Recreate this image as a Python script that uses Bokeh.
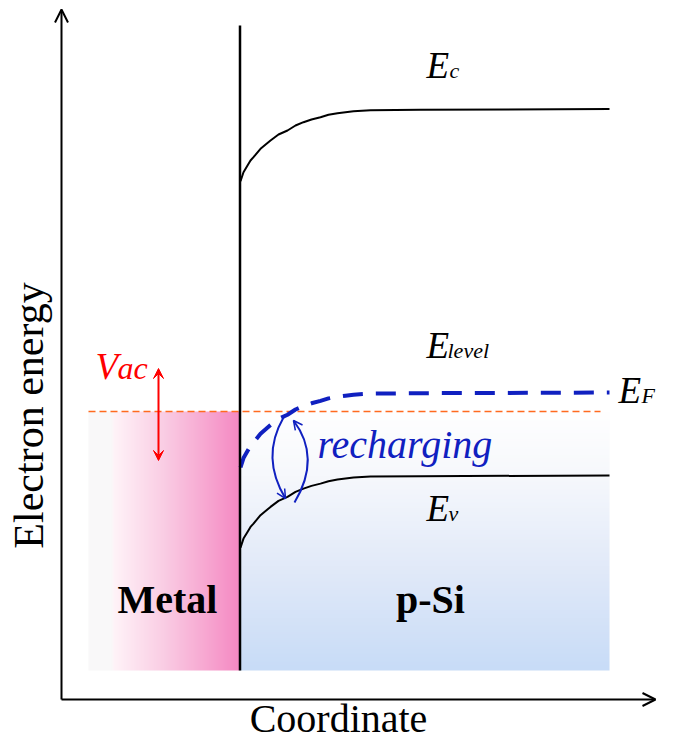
import numpy as np
from bokeh.plotting import figure
from bokeh.models import Range1d, Arrow, OpenHead, VeeHead
from bokeh.core.properties import value
from bokeh.embed import file_html
from bokeh.resources import INLINE

# ---------------- data (schematic units: coordinate, electron energy) -------------
coord = [240, 243, 247, 250, 253, 260, 270, 278, 287, 295, 303, 311, 320, 328, 337,
         345, 353, 370, 420, 609]
E_c = [561.3, 570.3, 577, 582, 585.3, 593.7, 602, 608, 612, 617, 620.3, 623, 625.3,
       627.7, 629.3, 630.3, 631.3, 632.3, 632.7, 633.5]
E_v = [194.9, 203.9, 210.6, 215.6, 218.9, 227.3, 235.6, 241.6, 245.6, 250.6, 253.9,
       256.6, 258.9, 261.3, 262.9, 263.9, 264.9, 265.9, 266.3, 267.0]
E_F = [275, 284.4, 291.4, 296.6, 300, 308.7, 317.4, 323.6, 327.8, 333, 336.4, 339.2,
       341.6, 344.1, 345.8, 346.8, 347.8, 348.9, 349.3, 350]

x_interface = 239.5
interface_E = [72, 717]
metal_x = [88, 239]
psi_x = [239, 609]
region_E = [72, 331]          # bottom / top of the filled regions
E_F_metal = 331               # Fermi level of the metal (orange dashed)
E_F_metal_x = [88, 600]
vac_x = 158
vac_E = [282, 374]
axis_x0, axis_E0 = 61, 43
axis_x1, axis_E1 = 655, 733

# recharging arcs: (x0, E0, ctrl_x, ctrl_E, x1, E1)
arc_down = (283, 325, 260, 285, 285, 244)
arc_up = (294, 240, 321, 285, 293, 322)

# labels (x, baseline)
E_labels_x = [426, 426, 618, 426]
E_labels_base = [665, 385, 340, 222]
E_subs = ["c", "level", "F", "v"]
sub_dx = [23, 21, 23, 22]

BLUE = "#1020C0"
FONT = value("Liberation Serif")
E_FS, SUB_FS = 37, 22


def mid(base, fs):
    # text is anchored at its middle; shift from the alphabetic baseline
    return base + 0.3375 * fs


p = figure(width=673, height=742, x_range=Range1d(0, 673), y_range=Range1d(0, 742),
           output_backend="svg", toolbar_location=None, min_border=0,
           x_axis_location=None, y_axis_location=None)
p.grid.visible = False
p.outline_line_color = None
p.background_fill_color = "white"
p.border_fill_color = "white"


def gradient(stops, n):
    t = np.linspace(0, 1, n)
    pos = [s[0] for s in stops]
    return [np.interp(t, pos, [s[1][k] for s in stops]) for k in range(3)]


# metal: horizontal gradient
nm = 151
r, g, b = gradient([(0, (249, 249, 249)), (0.15, (250, 248, 249)), (0.17, (255, 243, 248)),
                    (0.5, (250, 205, 228)), (1.0, (245, 138, 195))], nm)
img_m = np.empty((4, nm), dtype=np.uint32)
vm = img_m.view(dtype=np.uint8).reshape((4, nm, 4))
vm[..., 0] = r.astype(np.uint8)
vm[..., 1] = g.astype(np.uint8)
vm[..., 2] = b.astype(np.uint8)
vm[..., 3] = 255
p.image_rgba(image=[img_m], x=metal_x[0], y=region_E[0], dw=metal_x[1] - metal_x[0],
             dh=region_E[1] - region_E[0])

# p-Si: vertical gradient (row 0 = bottom)
ns = 200
r, g, b = gradient([(0, (200, 220, 247)), (0.4, (226, 234, 249)), (0.75, (246, 248, 252)),
                    (1.0, (255, 255, 255))], ns)
img_s = np.empty((ns, 4), dtype=np.uint32)
vs = img_s.view(dtype=np.uint8).reshape((ns, 4, 4))
vs[..., 0] = r.astype(np.uint8)[:, None]
vs[..., 1] = g.astype(np.uint8)[:, None]
vs[..., 2] = b.astype(np.uint8)[:, None]
vs[..., 3] = 255
p.image_rgba(image=[img_s], x=psi_x[0], y=region_E[0], dw=psi_x[1] - psi_x[0],
             dh=region_E[1] - region_E[0])

# metal Fermi level
p.line(E_F_metal_x, [E_F_metal, E_F_metal], line_color="#FF6A1F", line_width=1.5,
       line_dash="7 4")

# bands
p.line(coord, E_c, line_color="black", line_width=2)
p.line(coord, E_v, line_color="black", line_width=2)
p.line(coord, E_F, line_color=BLUE, line_width=4, line_dash="20 13")

# interface
p.line([x_interface, x_interface], interface_E, line_color="black", line_width=2.5)

# axes arrows
p.add_layout(Arrow(end=OpenHead(size=13, line_width=2), x_start=axis_x0, y_start=axis_E0,
                   x_end=axis_x0, y_end=axis_E1, line_width=2))
p.add_layout(Arrow(end=OpenHead(size=13, line_width=2), x_start=axis_x0, y_start=axis_E0,
                   x_end=axis_x1, y_end=axis_E0, line_width=2))

# Vac arrow
p.add_layout(Arrow(start=VeeHead(size=10, fill_color="red", line_color="red"),
                   end=VeeHead(size=10, fill_color="red", line_color="red"),
                   x_start=vac_x, y_start=vac_E[0], x_end=vac_x, y_end=vac_E[1],
                   line_color="red", line_width=2))

# recharging arcs
for a in (arc_down, arc_up):
    x0, e0, cx, ce, x1, e1 = a
    p.quadratic(x0=[x0], y0=[e0], cx=[cx], cy=[ce], x1=[x1], y1=[e1],
                line_color=BLUE, line_width=2)
    dx, de = x1 - cx, e1 - ce
    L = np.hypot(dx, de)
    p.add_layout(Arrow(end=OpenHead(size=9, line_color=BLUE, line_width=1.5),
                       x_start=x1 - dx / L * 3, y_start=e1 - de / L * 3, x_end=x1, y_end=e1,
                       line_alpha=0))

# energy labels
p.text(x=E_labels_x, y=[mid(b, E_FS) for b in E_labels_base], text=["E"] * 4,
       text_font=FONT, text_font_size=f"{E_FS}px", text_font_style="italic",
       text_baseline="middle", text_align="left", text_color="black")
p.text(x=[x + d for x, d in zip(E_labels_x, sub_dx)],
       y=[mid(b, SUB_FS) for b in E_labels_base], text=E_subs,
       text_font=FONT, text_font_size=f"{SUB_FS}px", text_font_style="italic",
       text_baseline="middle", text_align="left", text_color="black")

# Vac
p.text(x=[95], y=[mid(364, 37)], text=["V"], text_font=FONT, text_font_size="37px",
       text_font_style="italic", text_baseline="middle", text_color="red")
p.text(x=[117], y=[mid(364, 32)], text=["ac"], text_font=FONT, text_font_size="32px",
       text_font_style="italic", text_baseline="middle", text_color="red")

# recharging
p.text(x=[317], y=[mid(284.3, 40)], text=["recharging"], text_font=FONT,
       text_font_size="40px", text_font_style="italic", text_baseline="middle",
       text_color=BLUE)

# region names
p.text(x=[167, 430], y=[mid(130, 40)] * 2, text=["Metal", "p-Si"], text_font=FONT,
       text_font_size="40px", text_font_style="bold", text_baseline="middle",
       text_align="center", text_color="black")

# axis titles
p.text(x=[43 - 0.3375 * 42], y=[327], text=["Electron energy"], angle=np.pi / 2,
       text_font=FONT, text_font_size="42px", text_baseline="middle",
       text_align="center", text_color="black")
p.text(x=[338], y=[mid(11, 40)], text=["Coordinate"], text_font=FONT,
       text_font_size="40px", text_baseline="middle", text_align="center",
       text_color="black")

open("out.html", "w").write(file_html(p, INLINE))
